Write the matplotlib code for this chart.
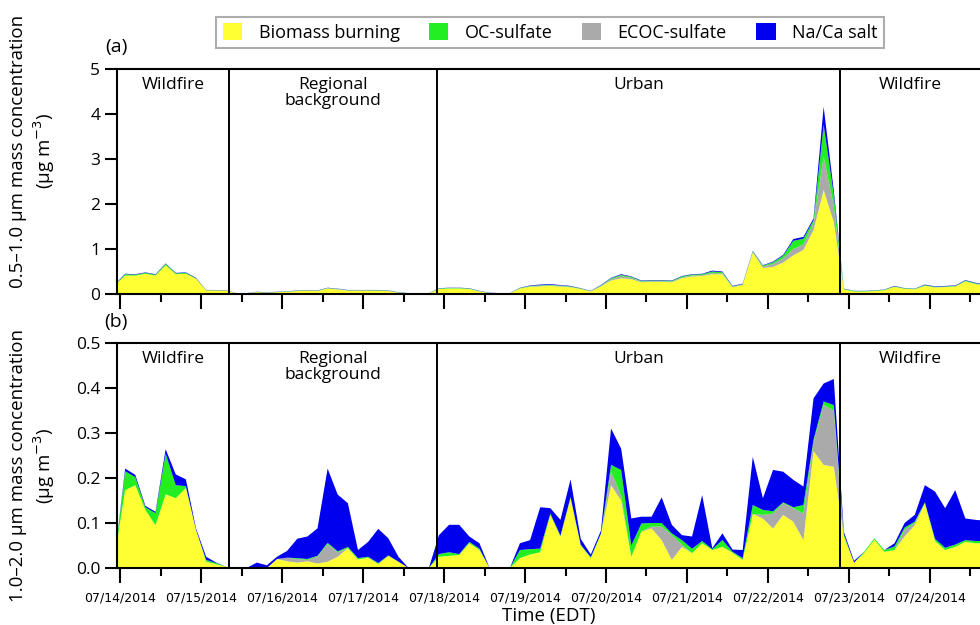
import numpy as np
import pandas as pd
import matplotlib
matplotlib.use("Agg")
import matplotlib.pyplot as plt
import matplotlib.dates as mdates
from matplotlib.patches import Patch

plt.rcParams['font.family'] = ['Open Sans', 'DejaVu Sans']

# 3-hourly samples (first one just before the axis start)
times = pd.date_range("2014-07-13 22:30", periods=87, freq="3h")
t = mdates.date2num(times.to_pydatetime())

labels = ["Biomass burning", "OC-sulfate", "ECOC-sulfate", "Na/Ca salt"]
col_bio = "#ffff33"
col_oc = "#22ee22"
col_ecoc = "#aaaaaa"
col_na = "#0000ee"

# period boundaries and names
bounds = ["2014-07-15 08:20", "2014-07-17 22:00", "2014-07-22 21:20"]
periods = ["Wildfire", "Regional\nbackground", "Urban", "Wildfire"]

# panel (a) 0.5-1.0 um
a_bio = [0.20, 0.41, 0.41, 0.45, 0.41, 0.64, 0.44, 0.45, 0.34, 0.08,
         0.08, 0.07, 0.015, 0.015, 0.04, 0.03, 0.04, 0.05, 0.065, 0.075,
         0.065, 0.12, 0.10, 0.075, 0.075, 0.075, 0.07, 0.065, 0.03, 0.015,
         0.015, 0.015, 0.11, 0.12, 0.12, 0.11, 0.055, 0.02, 0.015, 0.015,
         0.12, 0.16, 0.17, 0.18, 0.165, 0.15, 0.11, 0.055, 0.17, 0.30,
         0.35, 0.33, 0.26, 0.27, 0.27, 0.26, 0.35, 0.39, 0.40, 0.44,
         0.44, 0.15, 0.20, 0.92, 0.58, 0.60, 0.70, 0.86, 0.98, 1.42,
         2.31, 1.60, 0.10, 0.055, 0.055, 0.065, 0.085, 0.16, 0.115, 0.105,
         0.18, 0.145, 0.155, 0.165, 0.28, 0.22, 0.19]
a_ecoc = [0, 0, 0, 0, 0, 0, 0, 0, 0, 0,
          0, 0, 0, 0, 0, 0, 0, 0, 0.005, 0.005,
          0.005, 0.01, 0.01, 0.005, 0.005, 0.005, 0.005, 0.005, 0, 0,
          0, 0, 0.005, 0.005, 0.005, 0.005, 0.005, 0, 0, 0,
          0.005, 0.01, 0.015, 0.015, 0.015, 0.01, 0.005, 0.005, 0.01, 0.03,
          0.05, 0.03, 0.015, 0.015, 0.015, 0.015, 0.02, 0.02, 0.02, 0.03,
          0.02, 0.01, 0.01, 0.015, 0.03, 0.07, 0.09, 0.14, 0.12, 0.16,
          0.74, 0.35, 0.005, 0, 0, 0, 0, 0, 0, 0,
          0.005, 0.005, 0.005, 0.005, 0.005, 0.005, 0.005]
a_oc = [0.01, 0.03, 0.02, 0.02, 0.02, 0.03, 0.02, 0.02, 0.01, 0.005,
        0.005, 0.005, 0.003, 0.003, 0.005, 0.005, 0.005, 0.005, 0.005, 0.005,
        0.005, 0.005, 0.005, 0.005, 0.005, 0.005, 0.01, 0.005, 0.005, 0.003,
        0.003, 0.003, 0.01, 0.01, 0.01, 0.01, 0.005, 0.005, 0.003, 0.003,
        0.01, 0.01, 0.01, 0.01, 0.01, 0.01, 0.01, 0.005, 0.01, 0.02,
        0.025, 0.02, 0.015, 0.015, 0.015, 0.015, 0.02, 0.02, 0.02, 0.03,
        0.025, 0.01, 0.01, 0.015, 0.02, 0.035, 0.06, 0.18, 0.13, 0.06,
        0.71, 0.25, 0.01, 0.01, 0.01, 0.01, 0.01, 0.01, 0.01, 0.01,
        0.015, 0.01, 0.01, 0.01, 0.015, 0.015, 0.015]
a_na = [0.01, 0.01, 0.01, 0.01, 0.01, 0.01, 0.01, 0.01, 0.01, 0.005,
        0.005, 0.005, 0.002, 0.002, 0.005, 0.005, 0.005, 0.005, 0.005, 0.005,
        0.005, 0.005, 0.005, 0.005, 0.005, 0.005, 0.005, 0.005, 0.005, 0.002,
        0.002, 0.002, 0.005, 0.005, 0.005, 0.005, 0.005, 0.005, 0.002, 0.002,
        0.005, 0.01, 0.015, 0.015, 0.01, 0.01, 0.005, 0.005, 0.01, 0.01,
        0.015, 0.01, 0.01, 0.01, 0.01, 0.01, 0.01, 0.01, 0.01, 0.02,
        0.015, 0.01, 0.01, 0.01, 0.01, 0.015, 0.02, 0.04, 0.04, 0.04,
        0.40, 0.10, 0.005, 0.005, 0.005, 0.005, 0.005, 0.01, 0.005, 0.005,
        0.01, 0.01, 0.01, 0.01, 0.01, 0.01, 0.01]

# panel (b) 1.0-2.0 um
b_bio = [0.03, 0.173, 0.184, 0.129, 0.095, 0.164, 0.155, 0.178, 0.085, 0.014,
         0.008, 0.003, 0, 0, 0, 0, 0.02, 0.015, 0.012, 0.015,
         0.01, 0.014, 0.025, 0.044, 0.019, 0.023, 0.009, 0.027, 0.014, 0,
         0, 0, 0.025, 0.027, 0.029, 0.055, 0.04, 0, 0, 0,
         0.022, 0.03, 0.035, 0.118, 0.07, 0.155, 0.05, 0.022, 0.075, 0.184,
         0.15, 0.025, 0.081, 0.088, 0.062, 0.018, 0.047, 0.033, 0.055, 0.04,
         0.047, 0.034, 0.018, 0.12, 0.11, 0.088, 0.118, 0.103, 0.062, 0.26,
         0.229, 0.225, 0.07, 0.012, 0.033, 0.063, 0.036, 0.04, 0.07, 0.095,
         0.144, 0.06, 0.04, 0.047, 0.058, 0.055, 0.055]
b_ecoc = [0, 0, 0, 0, 0, 0, 0, 0, 0, 0,
          0, 0, 0, 0, 0, 0, 0, 0.008, 0.008, 0.003,
          0.015, 0.039, 0.01, 0, 0, 0, 0, 0, 0, 0,
          0, 0, 0, 0, 0, 0, 0, 0, 0, 0,
          0, 0, 0, 0, 0, 0, 0, 0, 0, 0.03,
          0.01, 0, 0, 0.004, 0.03, 0.055, 0.005, 0, 0, 0,
          0, 0, 0, 0, 0.008, 0.033, 0.026, 0.03, 0.059, 0.02,
          0.133, 0.125, 0, 0, 0, 0, 0, 0, 0.015, 0.005,
          0, 0, 0, 0, 0, 0, 0]
b_oc = [0, 0.042, 0.018, 0.006, 0.027, 0.09, 0.029, 0.004, 0, 0.004,
        0.003, 0, 0, 0, 0, 0, 0, 0, 0.002, 0.002,
        0.002, 0.003, 0.002, 0.003, 0.003, 0.002, 0.002, 0.001, 0, 0,
        0, 0, 0.006, 0.008, 0.002, 0.003, 0.003, 0, 0, 0,
        0.018, 0.012, 0.008, 0.003, 0.002, 0.003, 0.002, 0.002, 0.002, 0.015,
        0.058, 0.025, 0.018, 0.008, 0.008, 0.004, 0.01, 0.01, 0.005, 0.002,
        0.015, 0.002, 0.004, 0.02, 0.011, 0.005, 0.002, 0.002, 0.019, 0.005,
        0.008, 0.012, 0.005, 0, 0.003, 0.003, 0.004, 0.008, 0.005, 0.003,
        0.002, 0.005, 0.005, 0.005, 0.004, 0.005, 0.005]
b_na = [0, 0.006, 0.005, 0.003, 0.003, 0.01, 0.024, 0.015, 0.003, 0.007,
        0.001, 0, 0, 0, 0.012, 0.006, 0.005, 0.015, 0.043, 0.05,
        0.061, 0.165, 0.126, 0.097, 0.018, 0.033, 0.076, 0.038, 0.011, 0,
        0, 0, 0.042, 0.061, 0.065, 0.012, 0.012, 0, 0, 0,
        0.015, 0.02, 0.092, 0.012, 0.035, 0.039, 0.013, 0.006, 0.006, 0.081,
        0.047, 0.06, 0.015, 0.014, 0.057, 0.019, 0.011, 0.027, 0.102, 0.002,
        0.015, 0.005, 0.018, 0.107, 0.026, 0.092, 0.068, 0.061, 0.041, 0.092,
        0.04, 0.058, 0.005, 0.004, 0, 0, 0, 0.007, 0.01, 0.015,
        0.038, 0.105, 0.088, 0.121, 0.048, 0.047, 0.045]

fig = plt.figure(figsize=(9.8, 6.25), dpi=100)
W, H = 980, 625


def px_axes(left, top, right, bottom):
    return fig.add_axes([left / W, 1 - bottom / H, (right - left) / W, (bottom - top) / H])


ax_a = px_axes(117, 69, 980, 294)
ax_b = px_axes(117, 343, 980, 568)

xmin = mdates.date2num(pd.Timestamp("2014-07-13 23:05").to_pydatetime())
xmax = mdates.date2num(pd.Timestamp("2014-07-24 14:50").to_pydatetime())
bnums = [mdates.date2num(pd.Timestamp(b).to_pydatetime()) for b in bounds]
edges = [xmin] + bnums + [xmax]

panels = [
    (ax_a, [a_bio, a_ecoc, a_oc, a_na], 5, np.arange(0, 6, 1), "%d", "(a)"),
    (ax_b, [b_bio, b_ecoc, b_oc, b_na], 0.5, np.arange(0, 0.51, 0.1), "%.1f", "(b)"),
]

for ax, series, ytop, yt, fmt, tag in panels:
    ax.stackplot(t, *series, colors=[col_bio, col_ecoc, col_oc, col_na], linewidth=0)
    ax.set_xlim(xmin, xmax)
    ax.set_ylim(0, ytop)
    ax.set_yticks(yt)
    ax.set_yticklabels([fmt % v for v in yt], fontsize=12.5)
    for b in bnums:
        ax.axvline(b, color="black", lw=1.4)
    for i, name in enumerate(periods):
        xc = (edges[i] + edges[i + 1]) / 2
        ax.text(xc, 0.965, name, transform=ax.get_xaxis_transform(),
                ha="center", va="top", fontsize=12.5, linespacing=1.0)
    for s in ["left", "bottom", "top"]:
        ax.spines[s].set_linewidth(1.5)
    ax.spines["right"].set_visible(False)
    ax.xaxis.set_major_locator(mdates.DayLocator())
    ax.xaxis.set_minor_locator(mdates.HourLocator(byhour=12))
    ax.xaxis.set_major_formatter(mdates.DateFormatter("%m/%d/%Y"))
    ax.tick_params(axis="x", which="major", direction="out", length=11, width=1.5)
    ax.tick_params(axis="x", which="minor", direction="out", length=6, width=1.5)
    ax.tick_params(axis="y", direction="out", length=9, width=1.5, pad=3)
    fig.text(116 / W, 1 - (47 if tag == "(a)" else 322) / H, tag,
             ha="center", va="center", fontsize=14)

ax_a.tick_params(axis="x", which="both", labelbottom=False)
for lab in ax_b.get_xticklabels():
    lab.set_fontfamily("DejaVu Sans")
    lab.set_fontsize(9)
ax_b.tick_params(axis="x", which="major", pad=6)
ax_b.set_xlabel("Time (EDT)", fontsize=13.5, labelpad=2)

fig.text(33 / W, 1 - 151 / H, "0.5\u20131.0 \u03bcm mass concentration\n(\u03bcg m$^{-3}$)",
         rotation=90, ha="center", va="center", fontsize=13.5, multialignment="center")
fig.text(33 / W, 1 - 466 / H, "1.0\u20132.0 \u03bcm mass concentration\n(\u03bcg m$^{-3}$)",
         rotation=90, ha="center", va="center", fontsize=13.5, multialignment="center")

handles = [Patch(facecolor=c, edgecolor="none") for c in [col_bio, col_oc, col_ecoc, col_na]]
leg = fig.legend(handles, labels, loc="center", bbox_to_anchor=(550 / W, 1 - 32.5 / H),
                 ncol=4, fontsize=13, frameon=True, fancybox=False,
                 handlelength=1.1, handleheight=1.0, handletextpad=0.9,
                 columnspacing=1.6, borderpad=0.35)
leg.get_frame().set_edgecolor("#999999")
leg.get_frame().set_linewidth(1.5)

fig.savefig("out.png", dpi=100)
